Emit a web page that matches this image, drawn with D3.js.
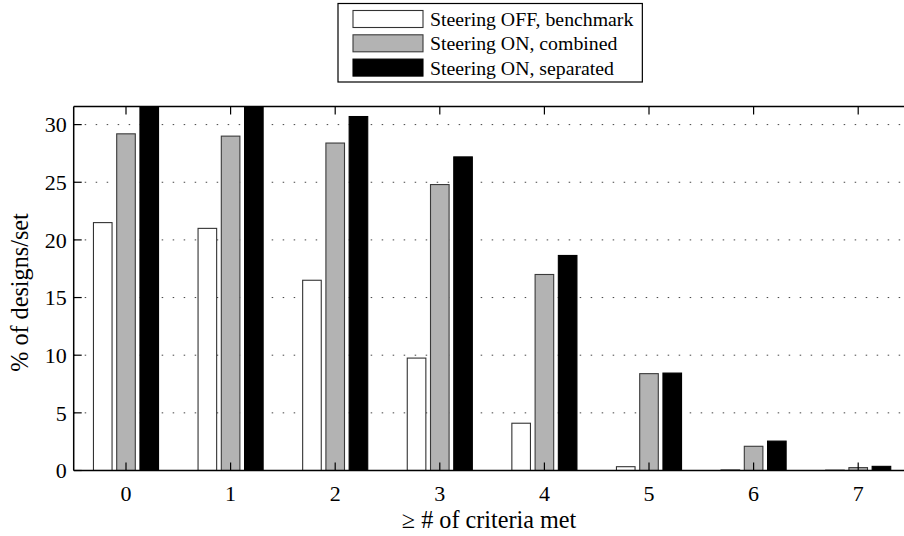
<!DOCTYPE html>
<html>
<head>
<meta charset="utf-8">
<script src="https://cdn.jsdelivr.net/npm/d3@7"></script>
<style>
    body { margin: 0; background: #fff; }
    svg text { font-family: "Liberation Serif", "Times New Roman", serif; fill: #000; }
</style>
</head>
<body>
<div id="chart"></div>
<script>
// Share of designs per set meeting at least N criteria
const categories = [0, 1, 2, 3, 4, 5, 6, 7];
const seriesNames = ["Steering OFF, benchmark", "Steering ON, combined", "Steering ON, separated"];
const benchmark = [21.5, 21.0, 16.5, 9.75, 4.1, 0.33, 0.05, 0.03];
const combined = [29.2, 29.0, 28.4, 24.8, 17.0, 8.4, 2.1, 0.25];
const separated = [34.5, 34.0, 30.7, 27.2, 18.65, 8.45, 2.55, 0.36];
const yTicks = [0, 5, 10, 15, 20, 25, 30];

const seriesColors = ["#ffffff", "#b3b3b3", "#000000"];
const seriesEdges = ["#333333", "#3a3a3a", "#000000"];

const width = 904, height = 536;
const margin = {top: 106.5, left: 73.7, right: -6.5, bottom: 65.5};
const innerW = width - margin.left - margin.right;
const innerH = height - margin.top - margin.bottom;

// font sizes (axes, labels 1.1x, legend 0.9x)
const fontAxis = 22, fontLabel = 24.2, fontLegend = 19.8;

const svg = d3.select("#chart").append("svg")
    .attr("width", width)
    .attr("height", height);

const g = svg.append("g")
    .attr("transform", "translate(" + margin.left + "," + margin.top + ")");

// scales (matlab-style limits)
const x = d3.scaleLinear().domain([-0.5, 7.5]).range([0, innerW]);
const y = d3.scaleLinear().domain([0, 31.57]).range([innerH, 0]);

// grouped bar geometry: 3 bars, group width 2/3, bar width 0.8 of slot
const groupWidth = 2 / 3;
const slot = groupWidth / 3;
const barW = x(0.8 * slot) - x(0);

svg.append("defs").append("clipPath").attr("id", "plotClip")
    .append("rect").attr("width", innerW).attr("height", innerH);

// dotted grid
g.append("g").selectAll("line")
    .data(yTicks.filter(d => d > 0))
    .enter().append("line")
    .attr("x1", 0).attr("x2", innerW)
    .attr("y1", d => y(d)).attr("y2", d => y(d))
    .attr("stroke", "#444")
    .attr("stroke-width", 1)
    .attr("stroke-dasharray", "1.5,9.5");

// bars
const series = [benchmark, combined, separated];
const bars = g.append("g").attr("clip-path", "url(#plotClip)");
series.forEach((vals, s) => {
    bars.selectAll(".bar-" + s)
        .data(vals)
        .enter().append("rect")
        .attr("class", "bar-" + s)
        .attr("x", (d, i) => x(categories[i] - groupWidth / 2 + slot * (s + 0.5)) - barW / 2)
        .attr("y", d => y(d))
        .attr("width", barW)
        .attr("height", d => y(0) - y(d))
        .attr("fill", seriesColors[s])
        .attr("stroke", seriesEdges[s])
        .attr("stroke-width", 1.1);
});

// axes box lines + inward ticks
const axisColor = "#000";
g.append("line").attr("x1", 0).attr("x2", innerW).attr("y1", innerH).attr("y2", innerH)
    .attr("stroke", axisColor).attr("stroke-width", 1.5);
g.append("line").attr("x1", 0).attr("x2", innerW).attr("y1", 0).attr("y2", 0)
    .attr("stroke", axisColor).attr("stroke-width", 1.5);
g.append("line").attr("x1", 0).attr("x2", 0).attr("y1", 0).attr("y2", innerH)
    .attr("stroke", axisColor).attr("stroke-width", 1.5);

const tickLen = 8;
categories.forEach(c => {
    g.append("line").attr("x1", x(c)).attr("x2", x(c)).attr("y1", innerH).attr("y2", innerH - tickLen)
        .attr("stroke", axisColor).attr("stroke-width", 1.2);
    g.append("line").attr("x1", x(c)).attr("x2", x(c)).attr("y1", 0).attr("y2", tickLen)
        .attr("stroke", axisColor).attr("stroke-width", 1.2);
});
yTicks.forEach(t => {
    g.append("line").attr("x1", 0).attr("x2", tickLen).attr("y1", y(t)).attr("y2", y(t))
        .attr("stroke", axisColor).attr("stroke-width", 1.2);
});

// tick labels
g.selectAll(".xtick")
    .data(categories)
    .enter().append("text")
    .attr("class", "xtick")
    .attr("x", d => x(d))
    .attr("y", innerH + 30.5)
    .attr("text-anchor", "middle")
    .style("font-size", fontAxis + "px")
    .text(d => d);

g.selectAll(".ytick")
    .data(yTicks)
    .enter().append("text")
    .attr("class", "ytick")
    .attr("x", -7)
    .attr("y", d => y(d))
    .attr("dy", "0.35em")
    .attr("text-anchor", "end")
    .style("font-size", fontAxis + "px")
    .text(d => d);

// axis titles
g.append("text")
    .attr("x", innerW / 2 - 3)
    .attr("y", innerH + 57.5)
    .attr("text-anchor", "middle")
    .style("font-size", fontLabel + "px")
    .text("\u2265 # of criteria met");

svg.append("text")
    .attr("transform", "translate(28," + (margin.top + innerH / 2 + 4) + ") rotate(-90)")
    .attr("text-anchor", "middle")
    .style("font-size", fontLabel + "px")
    .text("% of designs/set");

// legend
const legend = svg.append("g").attr("transform", "translate(338,3.5)");
const legendBox = legend.append("rect")
    .attr("height", 78.5)
    .attr("fill", "#fff")
    .attr("stroke", "#000")
    .attr("stroke-width", 1.2);

const rowH = 24.3;
let maxTextW = 0;
seriesNames.forEach((name, s) => {
    const cy = 15.5 + s * rowH;
    legend.append("rect")
        .attr("x", 15).attr("y", cy - 8.5)
        .attr("width", 70).attr("height", 17)
        .attr("fill", seriesColors[s])
        .attr("stroke", seriesEdges[s])
        .attr("stroke-width", 1.1);
    const label = legend.append("text")
        .attr("x", 92)
        .attr("y", cy)
        .attr("dy", "0.35em")
        .style("font-size", fontLegend + "px")
        .text(name);
    maxTextW = Math.max(maxTextW, label.node().getComputedTextLength());
});
legendBox.attr("width", 92 + maxTextW + 9);
</script>
</body>
</html>
